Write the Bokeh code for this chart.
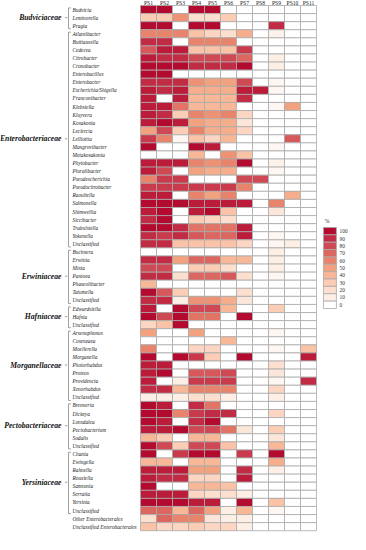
from bokeh.plotting import figure
from bokeh.models import ColumnDataSource, LinearColorMapper, Range1d
from bokeh.core.properties import value
from bokeh.embed import file_html
from bokeh.resources import INLINE

samples = ["PS1", "PS2", "PS3", "PS4", "PS5", "PS6", "PS7", "PS8", "PS9", "PS10", "PS11"]

budviciaceae_genera = ["Budvicia", "Leminorella", "Pragia"]
budviciaceae_vals = [
    [100, 100, 0, 100, 100, 0, 0, 0, 0, 0, 0],
    [30, 30, 55, 20, 20, 30, 0, 0, 0, 0, 0],
    [100, 100, 0, 100, 100, 0, 0, 0, 90, 0, 0],
]

enterobacteriaceae_genera = ["Atlantibacter", "Buttiauxella", "Cedecea", "Citrobacter", "Cronobacter",
    "Enterobacillus", "Enterobacter", "Escherichia/Shigella", "Franconibacter", "Klebsiella",
    "Kluyvera", "Kosakonia", "Leclercia", "Lelliottia", "Mangrovibacter", "Metakosakonia",
    "Phytobacter", "Pluralibacter", "Pseudescherichia", "Pseudocitrobacter", "Raoultella",
    "Salmonella", "Shimwellia", "Siccibacter", "Trabulsiella", "Yokenella", "Unclassified"]
enterobacteriaceae_vals = [
    [60, 60, 60, 35, 25, 20, 45, 0, 8, 0, 0],
    [90, 90, 0, 60, 60, 60, 0, 0, 0, 0, 0],
    [75, 95, 95, 35, 35, 35, 85, 0, 0, 0, 0],
    [95, 90, 90, 80, 80, 80, 70, 0, 10, 0, 0],
    [100, 100, 100, 90, 90, 90, 100, 0, 10, 0, 0],
    [100, 100, 0, 0, 0, 0, 0, 0, 0, 0, 0],
    [90, 90, 90, 55, 50, 50, 80, 0, 5, 0, 0],
    [95, 90, 95, 45, 45, 45, 95, 95, 5, 0, 0],
    [95, 0, 95, 40, 40, 40, 90, 0, 0, 0, 0],
    [95, 95, 65, 40, 40, 40, 0, 0, 5, 50, 0],
    [95, 90, 30, 60, 55, 60, 25, 0, 0, 0, 0],
    [95, 100, 95, 50, 45, 45, 15, 0, 0, 0, 0],
    [50, 80, 30, 60, 45, 45, 25, 0, 0, 0, 0],
    [85, 60, 5, 35, 25, 40, 0, 0, 0, 75, 0],
    [100, 0, 0, 100, 95, 0, 0, 0, 5, 0, 0],
    [0, 0, 0, 40, 0, 55, 35, 0, 0, 0, 0],
    [95, 95, 95, 60, 55, 60, 100, 0, 8, 0, 0],
    [95, 80, 0, 50, 45, 45, 0, 0, 5, 0, 0],
    [60, 85, 85, 0, 0, 0, 80, 80, 0, 0, 0],
    [85, 85, 85, 85, 85, 85, 60, 0, 0, 0, 0],
    [95, 95, 0, 60, 50, 60, 0, 0, 0, 45, 0],
    [100, 100, 100, 95, 95, 95, 95, 0, 60, 0, 0],
    [95, 100, 0, 95, 100, 35, 0, 0, 15, 0, 0],
    [90, 100, 0, 30, 25, 20, 0, 0, 0, 0, 0],
    [100, 100, 90, 65, 65, 65, 95, 0, 0, 0, 0],
    [90, 85, 90, 75, 70, 70, 95, 0, 5, 0, 0],
    [90, 90, 35, 35, 35, 35, 25, 0, 5, 10, 0],
]

erwiniaceae_genera = ["Buchnera", "Erwinia", "Mixta", "Pantoea", "Phaseolibacter", "Tatumella", "Unclassified"]
erwiniaceae_vals = [
    [0, 0, 0, 0, 0, 0, 0, 0, 10, 0, 0],
    [90, 90, 50, 70, 70, 40, 40, 0, 10, 0, 0],
    [80, 80, 0, 30, 30, 20, 0, 0, 10, 0, 0],
    [90, 90, 20, 70, 70, 75, 20, 0, 5, 0, 0],
    [40, 0, 0, 0, 0, 0, 0, 0, 0, 0, 0],
    [100, 75, 30, 0, 0, 0, 20, 0, 0, 0, 0],
    [90, 90, 10, 55, 55, 45, 15, 0, 0, 0, 0],
]

hafniaceae_genera = ["Edwardsiella", "Hafnia", "Unclassified"]
hafniaceae_vals = [
    [95, 0, 100, 80, 80, 40, 0, 0, 30, 0, 0],
    [100, 80, 100, 65, 65, 0, 100, 0, 0, 0, 0],
    [25, 35, 100, 0, 0, 0, 0, 0, 0, 0, 0],
]

morganellaceae_genera = ["Arsenophonus", "Cosenzaea", "Moellerella", "Morganella", "Photorhabdus",
    "Proteus", "Providencia", "Xenorhabdus", "Unclassified"]
morganellaceae_vals = [
    [50, 0, 0, 50, 0, 0, 0, 0, 5, 0, 0],
    [0, 0, 0, 0, 0, 40, 0, 0, 0, 0, 0],
    [60, 0, 0, 25, 25, 0, 0, 0, 5, 0, 35],
    [100, 0, 100, 85, 30, 0, 100, 0, 0, 0, 95],
    [95, 95, 0, 0, 0, 0, 0, 0, 20, 0, 0],
    [95, 100, 0, 75, 75, 80, 0, 0, 15, 0, 0],
    [95, 0, 10, 85, 85, 85, 0, 0, 5, 0, 90],
    [90, 90, 40, 60, 60, 60, 0, 0, 25, 0, 0],
    [10, 10, 10, 20, 20, 10, 0, 0, 10, 0, 0],
]

pectobacteriaceae_genera = ["Brenneria", "Dickeya", "Lonsdalea", "Pectobacterium", "Sodalis", "Unclassified"]
pectobacteriaceae_vals = [
    [100, 95, 0, 90, 65, 0, 0, 0, 0, 0, 0],
    [100, 100, 60, 85, 90, 90, 0, 0, 25, 0, 0],
    [100, 95, 0, 90, 100, 0, 0, 0, 0, 0, 0],
    [95, 95, 100, 80, 80, 65, 15, 0, 30, 0, 0],
    [40, 30, 0, 40, 40, 0, 0, 0, 15, 0, 0],
    [100, 80, 30, 80, 80, 35, 0, 0, 40, 0, 0],
]

yersiniaceae_genera = ["Chania", "Ewingella", "Rahnella", "Rouxiella", "Samsonia", "Serratia", "Yersinia", "Unclassified"]
yersiniaceae_vals = [
    [100, 0, 85, 100, 100, 0, 85, 0, 100, 0, 0],
    [40, 40, 0, 40, 40, 0, 0, 0, 45, 0, 0],
    [95, 95, 95, 50, 50, 0, 90, 0, 10, 0, 0],
    [95, 90, 90, 25, 25, 0, 95, 0, 0, 0, 0],
    [100, 0, 0, 40, 40, 35, 0, 0, 0, 0, 0],
    [95, 95, 95, 25, 20, 20, 10, 0, 0, 0, 0],
    [100, 100, 100, 95, 95, 0, 100, 0, 35, 0, 0],
    [70, 70, 40, 70, 50, 10, 40, 0, 5, 0, 0],
]

other_genera = ["Other Enterobacterales", "Unclassified  Enterobacterales"]
other_vals = [
    [20, 70, 60, 60, 15, 10, 10, 0, 0, 0, 0],
    [35, 25, 25, 30, 25, 25, 10, 0, 0, 0, 0],
]

legend_ticks = [100, 90, 80, 70, 60, 50, 40, 30, 20, 10, 0]

groups = [
    ("Budviciaceae", budviciaceae_genera, budviciaceae_vals),
    ("Enterobacteriaceae", enterobacteriaceae_genera, enterobacteriaceae_vals),
    ("Erwiniaceae", erwiniaceae_genera, erwiniaceae_vals),
    ("Hafniaceae", hafniaceae_genera, hafniaceae_vals),
    ("Morganellaceae", morganellaceae_genera, morganellaceae_vals),
    ("Pectobacteriaceae", pectobacteriaceae_genera, pectobacteriaceae_vals),
    ("Yersiniaceae", yersiniaceae_genera, yersiniaceae_vals),
    ("", other_genera, other_vals),
]

# colour palette (interpolated between anchor colours)
anchors = ["#ffffff", "#fdeee6", "#fcdfcf", "#fbcdb4", "#f8b898", "#f3a27f",
           "#e8836c", "#dc6660", "#cf4954", "#c12c44", "#b30b30"]
def hex2rgb(h):
    return tuple(int(h[i:i + 2], 16) for i in (1, 3, 5))
palette = []
for k in range(101):
    seg = min(k // 10, 9)
    t = (k - seg * 10) / 10.0
    a, b = hex2rgb(anchors[seg]), hex2rgb(anchors[seg + 1])
    c = tuple(int(round(a[j] + (b[j] - a[j]) * t)) for j in range(3))
    palette.append("#%02x%02x%02x" % c)
mapper = LinearColorMapper(palette=palette, low=0, high=100)

cx, cy, cv = [], [], []
lab_y, lab_t = [], []
fam_x, fam_y, fam_t = [], [], []
bx0, by0, bx1, by1 = [], [], [], []
row = 0
LABX = -4.25
BRX = -4.5
for fam, gens, vals in groups:
    start = row
    for g, vs in zip(gens, vals):
        for j, v in enumerate(vs):
            cx.append(j + 0.5)
            cy.append(row + 0.5)
            cv.append(v)
        lab_y.append(row + 0.5)
        lab_t.append(g)
        row += 1
    end = row
    if fam:
        fam_t.append(fam)
        fam_y.append((start + end) / 2.0)
        # bracket
        bx0 += [BRX, BRX, BRX, BRX - 0.22]
        bx1 += [BRX, BRX + 0.15, BRX + 0.15, BRX - 0.07]
        by0 += [start + 0.3, start + 0.3, end - 0.12, (start + end) / 2.0]
        by1 += [end - 0.12, start + 0.3, end - 0.12, (start + end) / 2.0]

nrows = row
p = figure(width=350, height=534,
           x_range=Range1d(-8.75, 13.125), y_range=Range1d(65.47, -0.619),
           output_backend="svg", toolbar_location=None,
           x_axis_type=None, y_axis_type=None, min_border=0,
           outline_line_color=None)
p.grid.visible = False

src = ColumnDataSource(dict(x=cx, y=cy, v=cv))
p.rect(x="x", y="y", width=1, height=1, source=src,
       fill_color={"field": "v", "transform": mapper},
       line_color="#a9a9a9", line_width=0.8)

# column headers
p.text(x=[j + 0.5 for j in range(len(samples))], y=[-0.37] * len(samples), text=samples,
       text_font=value("Liberation Serif"), text_font_size="5.6px",
       text_align="center", text_baseline="middle", text_color="#222222")

# genus labels
p.text(x=[LABX] * len(lab_t), y=lab_y, text=lab_t,
       text_font=value("Liberation Serif"), text_font_style="italic",
       text_font_size="5.3px", text_align="left", text_baseline="middle",
       text_color="#222222")

# family labels
p.text(x=[-4.94] * len(fam_t), y=fam_y, text=fam_t,
       text_font=value("Liberation Serif"), text_font_style="bold italic",
       text_font_size="7.7px", text_align="right", text_baseline="middle",
       text_color="#111111")

p.segment(x0=bx0, y0=by0, x1=bx1, y1=by1, line_color="#8a8a8a", line_width=0.8)

# legend
leg_top = 27.47
leg_h = 0.912
leg_y = [leg_top + leg_h * (i + 0.5) for i in range(len(legend_ticks))]
lsrc = ColumnDataSource(dict(y=leg_y, v=legend_ticks, t=[str(t) for t in legend_ticks]))
p.rect(x=11.84, y="y", width=0.81, height=leg_h, source=lsrc,
       fill_color={"field": "v", "transform": mapper},
       line_color="#a9a9a9", line_width=0.8)
p.text(x=12.44, y="y", text="t", source=lsrc,
       text_font=value("Liberation Serif"), text_font_size="5.4px",
       text_align="left", text_baseline="middle", text_color="#333333")
p.text(x=[11.5], y=[leg_top - 0.85], text=["%"],
       text_font=value("Liberation Serif"), text_font_size="6px",
       text_align="left", text_baseline="middle", text_color="#333333")

open("out.html", "w").write(file_html(p, INLINE))
